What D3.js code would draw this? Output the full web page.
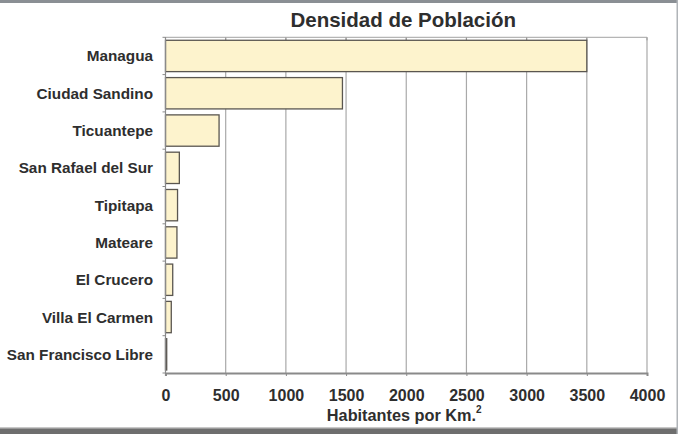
<!DOCTYPE html>
<html><head><meta charset="utf-8">
<script src="https://cdn.jsdelivr.net/npm/d3@7"></script>
<style>
html,body{margin:0;padding:0;background:#fff;}
svg{display:block;font-family:"Liberation Sans",Arial,sans-serif;}
</style></head>
<body>
<script>
const categories = ["Managua","Ciudad Sandino","Ticuantepe","San Rafael del Sur","Tipitapa","Mateare","El Crucero","Villa El Carmen","San Francisco Libre"];
const values = [3500, 1470, 445, 115, 100, 95, 60, 48, 10];
const xTicks = [0,500,1000,1500,2000,2500,3000,3500,4000];
const title = "Densidad de Población";
const xTitle = "Habitantes por Km.";

const W = 678, H = 434;
const m = {left:165.5, right:647, top:37.3, bottom:373};
const svg = d3.select("body").append("svg").attr("width",W).attr("height",H);

// frame
svg.append("rect").attr("x",0).attr("y",0).attr("width",W).attr("height",3).attr("fill","#8a8f94");
svg.append("rect").attr("x",0).attr("y",428).attr("width",W).attr("height",6).attr("fill","#6e6e6e");
svg.append("rect").attr("x",0).attr("y",427).attr("width",W).attr("height",1.5).attr("fill","#c8c8c8");
svg.append("rect").attr("x",676.5).attr("y",0).attr("width",1.5).attr("height",H).attr("fill","#b0b4b8");

const x = d3.scaleLinear().domain([0,4000]).range([m.left,m.right]);
const y = d3.scaleBand().domain(categories).range([m.top,m.bottom]).paddingInner(0.16).paddingOuter(0.08);
const yb = d3.scaleBand().domain(categories).range([m.top,m.bottom]);

// gridlines
svg.append("g").selectAll("line").data(xTicks.slice(1)).join("line")
  .attr("x1",d=>x(d)).attr("x2",d=>x(d)).attr("y1",m.top).attr("y2",m.bottom)
  .attr("stroke","#a9a9a9").attr("stroke-width",1.2);
// top border
svg.append("line").attr("x1",m.left).attr("x2",m.right).attr("y1",m.top).attr("y2",m.top)
  .attr("stroke","#b5b5b5").attr("stroke-width",1.2);
// top ticks
svg.append("g").selectAll("line").data(xTicks).join("line")
  .attr("x1",d=>x(d)).attr("x2",d=>x(d)).attr("y1",m.top).attr("y2",m.top+3)
  .attr("stroke","#999");

// bars
svg.append("g").selectAll("rect").data(categories).join("rect")
  .attr("x",x(0)).attr("y",d=>y(d))
  .attr("width",(d,i)=>x(values[i])-x(0)).attr("height",y.bandwidth())
  .attr("fill","#fdf3cd").attr("stroke","#5a5650").attr("stroke-width",1.3);

// left axis
svg.append("line").attr("x1",m.left).attr("x2",m.left).attr("y1",m.top).attr("y2",m.bottom+3)
  .attr("stroke","#8a8a8a").attr("stroke-width",1.2);
svg.append("g").selectAll("line").data(categories.concat(["_end"])).join("line")
  .attr("x1",m.left-3).attr("x2",m.left)
  .attr("y1",(d,i)=>m.top+i*yb.step()).attr("y2",(d,i)=>m.top+i*yb.step())
  .attr("stroke","#8a8a8a");
svg.append("g").selectAll("text").data(categories).join("text")
  .attr("x",153).attr("y",d=>yb(d)+yb.bandwidth()/2).attr("dy","0.36em")
  .attr("text-anchor","end").attr("font-weight","bold").attr("font-size",15.3)
  .attr("fill","#2e2e2e").text(d=>d);

// bottom axis
const xAxis = d3.axisBottom(x).tickValues(xTicks).tickSize(3).tickPadding(14).tickFormat(d3.format("d"));
const gx = svg.append("g").attr("transform",`translate(0,${m.bottom})`).call(xAxis);
gx.select(".domain").attr("stroke","#8a8a8a").attr("stroke-width",2);
gx.selectAll(".tick line").attr("stroke","#8a8a8a");
gx.selectAll("text").attr("font-size",16).attr("font-weight","bold").attr("fill","#2e2e2e")
  .attr("font-family","'Liberation Sans',Arial,sans-serif");

// titles
svg.append("text").attr("x",(m.left+m.right)/2 - 3).attr("y",27).attr("text-anchor","middle")
  .attr("font-size",20.5).attr("font-weight","bold").attr("fill","#2e2e2e").text(title);
const t = svg.append("text").attr("x",(m.left+m.right)/2 - 2).attr("y",421).attr("text-anchor","middle")
  .attr("font-size",16.3).attr("font-weight","bold").attr("fill","#2e2e2e");
t.append("tspan").text(xTitle);
t.append("tspan").attr("font-size",10).attr("dy","-8").text("2");
</script>
</body></html>
